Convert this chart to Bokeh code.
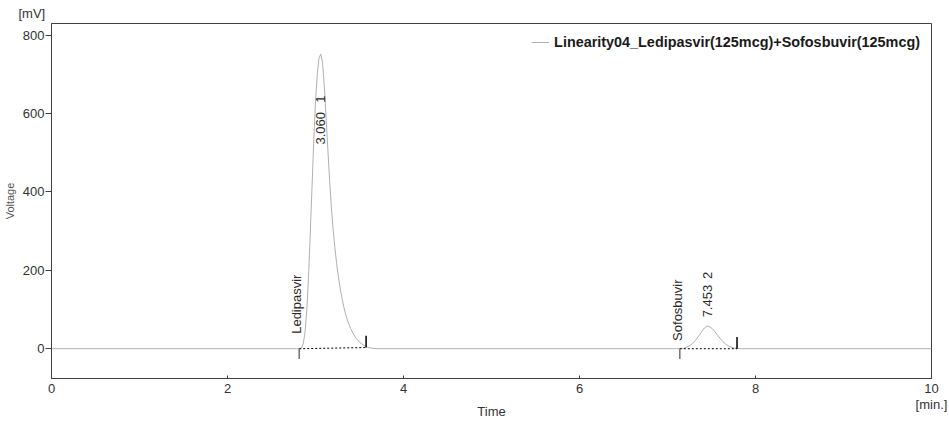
from math import pi
from bokeh.plotting import figure
from bokeh.models import Range1d, LinearAxis, FixedTicker
from bokeh.core.properties import value
from bokeh.embed import file_html
from bokeh.resources import INLINE

# ---- data ----
ledipasvir_t = [2.80, 2.84, 2.86, 2.88, 2.90, 2.92, 2.94, 2.96, 2.98, 3.00, 3.02, 3.04, 3.06,
                3.08, 3.10, 3.12, 3.14, 3.16, 3.18, 3.20, 3.22, 3.24, 3.26, 3.28, 3.30, 3.32,
                3.34, 3.36, 3.38, 3.40, 3.43, 3.46, 3.50, 3.54, 3.58, 3.62, 3.70]
ledipasvir_mv = [0, 2, 12, 40, 95, 180, 290, 410, 530, 630, 700, 742, 752,
                 730, 670, 590, 510, 430, 362, 305, 258, 218, 184, 155, 130, 108,
                 90, 75, 62, 51, 38, 27, 17, 10, 5, 2, 0]
sofosbuvir_t = [7.10, 7.18, 7.22, 7.26, 7.30, 7.33, 7.36, 7.39, 7.42, 7.45, 7.48, 7.51,
                7.54, 7.57, 7.60, 7.63, 7.66, 7.70, 7.75, 7.80, 7.85]
sofosbuvir_mv = [0, 1, 4, 9, 17, 25, 34, 44, 53, 58, 56, 51,
                 43, 34, 26, 18, 12, 6, 2, 0.5, 0]
run_start, run_end = 0.0, 10.0

peak_names = ["Ledipasvir", "Sofosbuvir"]
peak_numbers = ["1", "2"]
ret_times = [3.060, 7.453]
ret_labels = ["3.060", "7.453"]
peak_start = [2.815, 7.14]
peak_end = [3.575, 7.79]
base_start_mv = [0, 0]
base_end_mv = [3, 0]

series_name = "Linearity04_Ledipasvir(125mcg)+Sofosbuvir(125mcg)"
x_ticks = [0, 2, 4, 6, 8, 10]
y_ticks = [0, 200, 400, 600, 800]

FONT = "Liberation Sans"
TXT = "#2a2a2a"

trace_t = [run_start] + ledipasvir_t + sofosbuvir_t + [run_end]
trace_mv = [0] + ledipasvir_mv + sofosbuvir_mv + [0]

p = figure(width=949, height=421, output_backend="svg", toolbar_location=None,
           x_range=Range1d(0, 10), y_range=Range1d(-76, 830),
           min_border_left=50, min_border_right=18, min_border_top=22, min_border_bottom=43,
           background_fill_color="white", border_fill_color="white")
p.grid.visible = False
p.outline_line_color = "#404040"
p.outline_line_width = 1

# unit of the y axis as the figure title, at the top-left corner
p.title.text = "[mV]"
p.title.align = "left"
p.title.offset = -33
p.title.standoff = 6
p.title.text_font = FONT
p.title.text_font_size = "13px"
p.title.text_font_style = "normal"
p.title.text_color = "#333333"

p.line(trace_t, trace_mv, line_color="#b0b0b0", line_width=1, legend_label=series_name)

# integration baselines and peak start/end markers
p.segment(x0=peak_start, y0=base_start_mv, x1=peak_end, y1=base_end_mv,
          line_color="black", line_width=1, line_dash="2 2")
p.segment(x0=peak_start, y0=base_start_mv, x1=peak_start, y1=[v - 26 for v in base_start_mv],
          line_color="#707070", line_width=1.5)
p.segment(x0=peak_end, y0=base_end_mv, x1=peak_end, y1=[v + 30 for v in base_end_mv],
          line_color="black", line_width=1.5)

# annotations
name_x = [t - 0.032 for t in peak_start]
p.text(x=name_x, y=[38, 20], text=peak_names, angle=pi / 2, text_align="left",
       text_baseline="middle", text_font=value(FONT), text_font_size="13px", text_color=TXT)
p.text(x=ret_times, y=[521, 80], text=ret_labels, angle=pi / 2, text_align="left",
       text_baseline="middle", text_font=value(FONT), text_font_size="13px", text_color=TXT)
p.text(x=ret_times, y=[628, 178], text=peak_numbers, angle=pi / 2, text_align="left",
       text_baseline="middle", text_font=value(FONT), text_font_size="13px", text_color=TXT)

# axes
for ax in (p.xaxis, p.yaxis):
    ax.axis_line_color = "#404040"
    ax.major_tick_line_color = "#404040"
    ax.minor_tick_line_color = None
    ax.major_label_text_font = FONT
    ax.major_label_text_font_size = "13px"
    ax.major_label_text_color = "#333333"

p.xaxis.ticker = x_ticks
p.xaxis.major_tick_in = 3
p.xaxis.major_tick_out = 0
p.xaxis.major_label_standoff = 5

p.yaxis.ticker = y_ticks
p.yaxis.major_tick_in = 0
p.yaxis.major_tick_out = 6
p.yaxis.major_label_standoff = 1
p.yaxis.axis_label = "Voltage"
p.yaxis.axis_label_text_font = FONT
p.yaxis.axis_label_text_font_size = "11px"
p.yaxis.axis_label_text_font_style = "normal"
p.yaxis.axis_label_text_color = "#555555"
p.yaxis.axis_label_standoff = 4

# second bottom axis: unit "[min.]" under the last tick, and the "Time" title
unit_axis = LinearAxis(ticker=FixedTicker(ticks=[run_end]),
                       major_label_overrides={run_end: "[min.]"})
unit_axis.axis_line_color = None
unit_axis.major_tick_line_color = None
unit_axis.minor_tick_line_color = None
unit_axis.major_tick_in = 0
unit_axis.major_tick_out = 0
unit_axis.major_label_standoff = 1
unit_axis.major_label_text_font = FONT
unit_axis.major_label_text_font_size = "13px"
unit_axis.major_label_text_color = "#333333"
unit_axis.axis_label = "Time"
unit_axis.axis_label_text_font = FONT
unit_axis.axis_label_text_font_size = "13px"
unit_axis.axis_label_text_font_style = "normal"
unit_axis.axis_label_text_color = "#333333"
unit_axis.axis_label_standoff = -11
p.add_layout(unit_axis, "below")

# legend
lg = p.legend[0]
lg.location = "top_right"
lg.border_line_alpha = 0
lg.background_fill_alpha = 0
lg.margin = 5
lg.padding = 6
lg.glyph_width = 18
lg.glyph_height = 16
lg.label_height = 16
lg.label_standoff = 5
lg.label_text_font = FONT
lg.label_text_font_size = "14.4px"
lg.label_text_font_style = "bold"
lg.label_text_color = "#1a1a1a"

open("out.html", "w").write(file_html(p, INLINE))
